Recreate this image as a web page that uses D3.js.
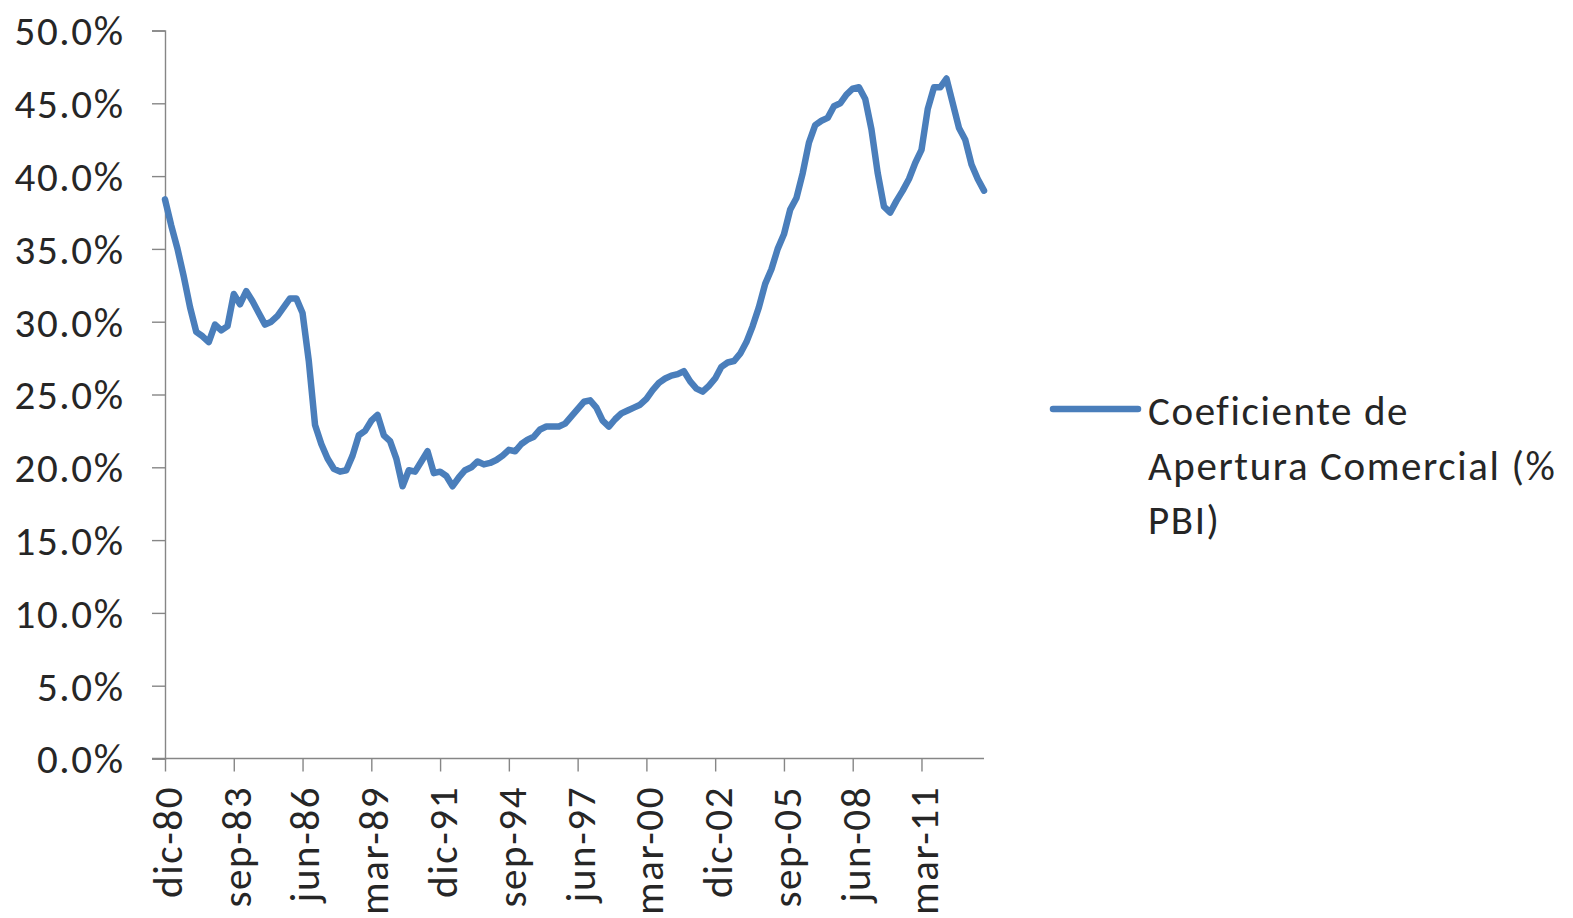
<!DOCTYPE html>
<html>
<head>
<meta charset="utf-8">
<script src="https://cdn.jsdelivr.net/npm/d3@7"></script>
<style>
  html, body { margin: 0; padding: 0; background: #fff; }
  svg { display: block; }
  text { font-family: Carlito, Calibri, Lato, "Open Sans", sans-serif; fill: #262626; }
</style>
</head>
<body>
<svg id="chart" width="1573" height="918"></svg>
<script>
// ---- Data ----
const startYear = 1980;           // first category: dic-80
const quarterNames = ["mar", "jun", "sep", "dic"];
const seriesName = "Coeficiente de Apertura Comercial (% PBI)";
const legendLines = ["Coeficiente de", "Apertura Comercial (%", "PBI)"];

// quarterly values, % of GDP (dic-80 ... sep-13)
const values = [
  38.4, 36.6, 35.0, 33.1, 31.0, 29.3, 29.0, 28.6, 29.8, 29.4,
  29.7, 31.9, 31.2, 32.1, 31.4, 30.6, 29.8, 30.0, 30.4, 31.0,
  31.6, 31.6, 30.6, 27.3, 22.9, 21.6, 20.6, 19.9, 19.7, 19.8,
  20.8, 22.2, 22.5, 23.2, 23.6, 22.2, 21.8, 20.6, 18.7, 19.8,
  19.7, 20.4, 21.1, 19.6, 19.7, 19.4, 18.7, 19.3, 19.8, 20.0,
  20.4, 20.2, 20.3, 20.5, 20.8, 21.2, 21.1, 21.6, 21.9, 22.1,
  22.6, 22.8, 22.8, 22.8, 23.0, 23.5, 24.0, 24.5, 24.6, 24.1,
  23.2, 22.8, 23.3, 23.7, 23.9, 24.1, 24.3, 24.7, 25.3, 25.8,
  26.1, 26.3, 26.4, 26.6, 25.9, 25.4, 25.2, 25.6, 26.1, 26.9,
  27.2, 27.3, 27.8, 28.6, 29.7, 31.0, 32.6, 33.6, 35.0, 36.0,
  37.7, 38.5, 40.2, 42.3, 43.5, 43.8, 44.0, 44.8, 45.0, 45.6,
  46.0, 46.1, 45.3, 43.2, 40.2, 37.9, 37.5, 38.3, 39.0, 39.8,
  40.9, 41.8, 44.6, 46.1, 46.1, 46.7, 45.0, 43.3, 42.5, 40.8,
  39.8, 39.0
];

// category labels (one per quarter)
const categories = values.map((_, i) => {
  const q = 3 + i;                       // dic-80 is quarter index 3 of 1980
  const yr = startYear + Math.floor(q / 4);
  return quarterNames[q % 4] + "-" + String(yr % 100).padStart(2, "0");
});

const xTickLabels = ["dic-80", "sep-83", "jun-86", "mar-89", "dic-91", "sep-94",
                     "jun-97", "mar-00", "dic-02", "sep-05", "jun-08", "mar-11"];
const yTicks = [0, 0.05, 0.10, 0.15, 0.20, 0.25, 0.30, 0.35, 0.40, 0.45, 0.50];

// ---- Layout ----
const svg = d3.select("#chart");
const plotLeft = 165, plotRight = 984, plotTop = 30.5, plotBottom = 758.5;
const axisColor = "#868686";
const lineColor = "#4a7ebb";
const fontSize = 41;
const fontFam = "Carlito, Calibri, Lato, 'Open Sans', sans-serif";
const textColor = "#262626";
const spacing = "1.6px";

const x = d3.scalePoint().domain(categories).range([plotLeft, plotRight]);
const y = d3.scaleLinear().domain([0, 0.5]).range([plotBottom, plotTop]);

// Y axis
const yAxis = d3.axisLeft(y).tickValues(yTicks).tickSize(13).tickPadding(29)
  .tickFormat(d3.format(".1%"));
const gy = svg.append("g").attr("transform", `translate(${plotLeft},0)`).call(yAxis);
gy.select(".domain").attr("stroke", axisColor).attr("stroke-width", 1.4);
gy.selectAll(".tick line").attr("stroke", axisColor).attr("stroke-width", 1.4);
gy.selectAll(".tick text").attr("font-size", fontSize).attr("fill", textColor)
  .style("font-family", fontFam).style("letter-spacing", spacing)
  .attr("x", -42 + 1.6)
  .attr("dy", "0.35em");

// X axis
const xAxis = d3.axisBottom(x).tickValues(xTickLabels).tickSize(13).tickSizeOuter(0);
const gx = svg.append("g").attr("transform", `translate(0,${plotBottom})`).call(xAxis);
gx.select(".domain").attr("stroke", axisColor).attr("stroke-width", 1.4)
  .attr("d", `M${plotLeft - 13},0H${plotRight}`);
gx.selectAll(".tick line").attr("stroke", axisColor).attr("stroke-width", 1.4);
gx.selectAll(".tick text")
  .attr("font-size", fontSize).attr("fill", textColor)
  .style("font-family", fontFam).style("letter-spacing", spacing)
  .attr("text-anchor", "end")
  .attr("transform", "rotate(-90)")
  .attr("x", -29 + 1.6).attr("y", 0).attr("dy", "0.40em");

// Line
const line = d3.line()
  .x((d, i) => x(categories[i]))
  .y(d => y(d / 100));
svg.append("path")
  .datum(values)
  .attr("fill", "none")
  .attr("stroke", lineColor)
  .attr("stroke-width", 6.5)
  .attr("stroke-linejoin", "round")
  .attr("stroke-linecap", "round")
  .attr("d", line);

// Legend
const lg = svg.append("g").attr("class", "legend");
lg.append("line")
  .attr("x1", 1053).attr("x2", 1138).attr("y1", 409).attr("y2", 409)
  .attr("stroke", lineColor).attr("stroke-width", 6.5).attr("stroke-linecap", "round");
lg.append("text")
  .attr("x", 1148).attr("y", 425)
  .attr("font-size", fontSize).attr("fill", textColor)
  .style("letter-spacing", spacing)
  .selectAll("tspan").data(legendLines).join("tspan")
  .attr("x", 1148).attr("dy", (d, i) => i === 0 ? 0 : 54.5)
  .text(d => d);
</script>
</body>
</html>
